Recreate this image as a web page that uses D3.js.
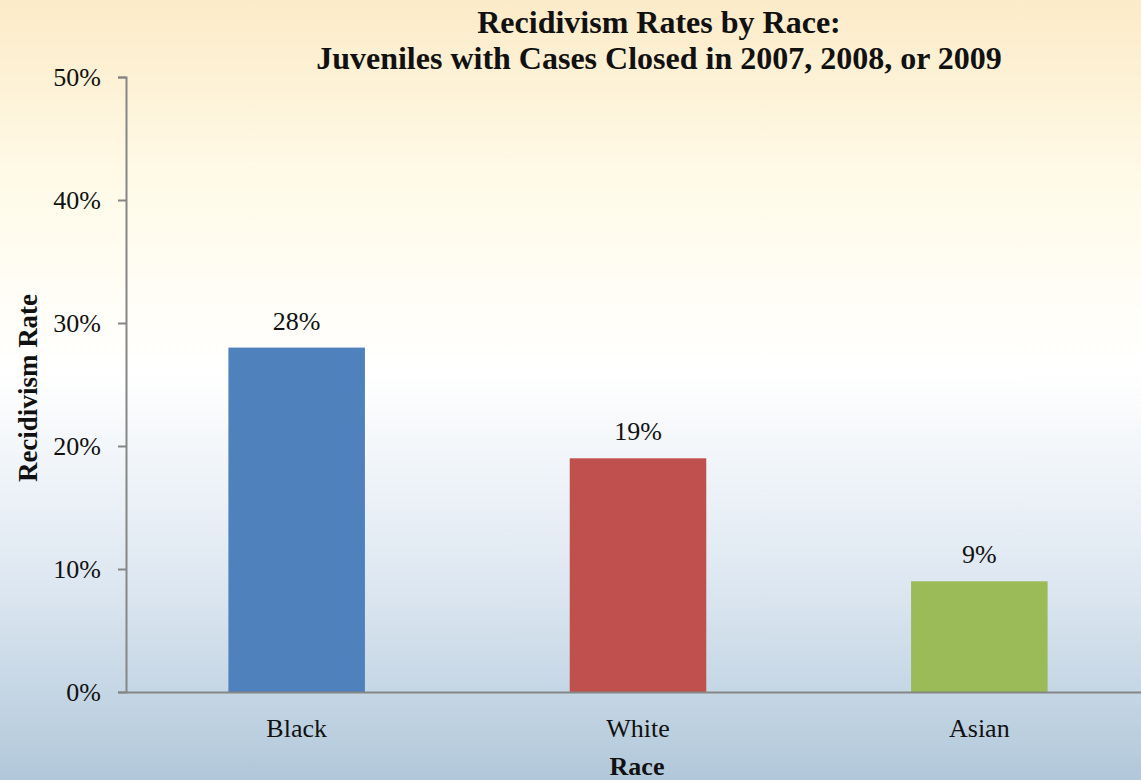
<!DOCTYPE html>
<html>
<head>
<meta charset="utf-8">
<script src="https://cdn.jsdelivr.net/npm/d3@7"></script>
<style>
  body { margin: 0; padding: 0; overflow: hidden; }
  svg { display: block; font-family: "Liberation Serif", "DejaVu Serif", serif; }
</style>
</head>
<body>
<div id="chart"></div>
<script>
// data
var categories = ["Black", "White", "Asian"]
var rates = [0.28, 0.19, 0.09]
var barColors = ["#4f81bd", "#c0504d", "#9bbb59"]
var yTicks = [0, 0.1, 0.2, 0.3, 0.4, 0.5]
var titleLines = ["Recidivism Rates by Race:", "Juveniles with Cases Closed in 2007, 2008, or 2009"]

var width = 1141
var height = 780
var margin = {top: 77, right: -9, bottom: 88, left: 126}
var fontFam = "Liberation Serif"

var svg = d3.select("#chart")
    .append("svg")
    .attr("width", width)
    .attr("height", height)

// background gradient: cream at the top, white in the middle, pale blue at the bottom
var grad = svg.append("defs").append("linearGradient")
    .attr("id", "bg")
    .attr("x1", 0).attr("y1", 0).attr("x2", 0).attr("y2", 1)
grad.append("stop").attr("offset", "0%").attr("stop-color", "#fcebc8")
grad.append("stop").attr("offset", "25%").attr("stop-color", "#fffbea")
grad.append("stop").attr("offset", "48%").attr("stop-color", "#ffffff")
grad.append("stop").attr("offset", "75%").attr("stop-color", "#dde7f1")
grad.append("stop").attr("offset", "100%").attr("stop-color", "#b1c8da")

svg.append("rect")
    .attr("width", width)
    .attr("height", height)
    .attr("fill", "url(#bg)")

var x = d3.scaleBand()
    .domain(categories)
    .range([margin.left, width - margin.right])
    .paddingInner(0.6)
    .paddingOuter(0.3)

var y = d3.scaleLinear()
    .domain([0, 0.5])
    .range([height - margin.bottom, margin.top])

// bars
svg.selectAll(".bar")
    .data(categories)
    .enter()
    .append("rect")
    .attr("class", "bar")
    .attr("x", function(d){ return x(d) })
    .attr("width", x.bandwidth())
    .attr("y", function(d, i){ return y(rates[i]) })
    .attr("height", function(d, i){ return y(0) - y(rates[i]) })
    .attr("fill", function(d, i){ return barColors[i] })

// value labels
svg.selectAll(".val")
    .data(categories)
    .enter()
    .append("text")
    .attr("class", "val")
    .attr("x", function(d){ return x(d) + x.bandwidth() / 2 })
    .attr("y", function(d, i){ return y(rates[i]) - 18 })
    .attr("text-anchor", "middle")
    .style("font-size", "26px")
    .style("font-family", fontFam)
    .attr("fill", "#111")
    .text(function(d, i){ return d3.format(".0%")(rates[i]) })

// y axis
var yAxis = svg.append("g")
    .attr("transform", "translate(" + margin.left + ",0)")
    .call(d3.axisLeft(y).tickValues(yTicks).tickFormat(d3.format(".0%")).tickSize(8).tickPadding(17))
yAxis.select(".domain").attr("stroke", "#868686").attr("stroke-width", 2)
yAxis.selectAll(".tick line").attr("stroke", "#868686").attr("stroke-width", 2)
yAxis.selectAll(".tick text")
    .style("font-size", "26px")
    .style("font-family", fontFam)
    .attr("fill", "#111")

// x axis
var xAxis = svg.append("g")
    .attr("transform", "translate(0," + y(0) + ")")
    .call(d3.axisBottom(x).tickSize(0).tickPadding(0))
xAxis.select(".domain").attr("stroke", "#868686").attr("stroke-width", 2)
xAxis.selectAll(".tick text")
    .attr("dy", null)
    .attr("y", 45)
    .style("font-size", "26px")
    .style("font-family", fontFam)
    .attr("fill", "#111")

// title
svg.append("text")
    .attr("text-anchor", "middle")
    .style("font-size", "32px")
    .style("font-weight", "bold")
    .style("font-family", fontFam)
    .attr("fill", "#111")
    .selectAll("tspan")
    .data(titleLines)
    .enter()
    .append("tspan")
    .attr("x", 659)
    .attr("y", function(d, i){ return 33 + i * 36 })
    .text(function(d){ return d })

// axis titles
svg.append("text")
    .attr("transform", "translate(37,388) rotate(-90)")
    .attr("text-anchor", "middle")
    .style("font-size", "27px")
    .style("font-weight", "bold")
    .style("font-family", fontFam)
    .attr("fill", "#111")
    .text("Recidivism Rate")

svg.append("text")
    .attr("x", 637)
    .attr("y", 775)
    .attr("text-anchor", "middle")
    .style("font-size", "26px")
    .style("font-weight", "bold")
    .style("font-family", fontFam)
    .attr("fill", "#111")
    .text("Race")
</script>
</body>
</html>
